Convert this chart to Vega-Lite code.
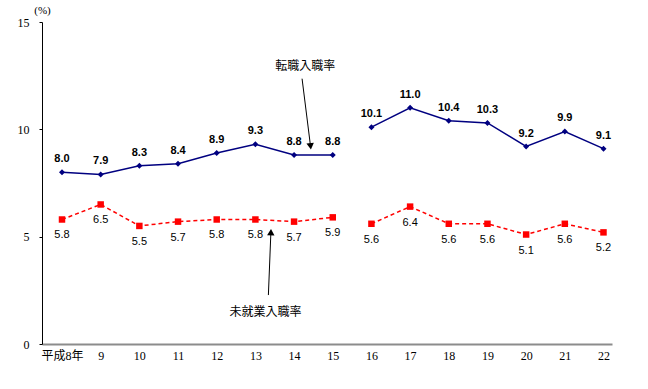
{
  "$schema": "https://vega.github.io/schema/vega-lite/v6.json",
  "autosize": {"type": "none"},
  "padding": {"left": 42, "top": 22, "right": 36, "bottom": 45},
  "width": 570,
  "height": 322,
  "background": "white",
  "config": {"view": {"stroke": null}},
  "datasets": {
    "rates": [
      {"year": 8, "series": "転職入職率", "period": 1, "value": 8.0},
      {"year": 9, "series": "転職入職率", "period": 1, "value": 7.9},
      {"year": 10, "series": "転職入職率", "period": 1, "value": 8.3},
      {"year": 11, "series": "転職入職率", "period": 1, "value": 8.4},
      {"year": 12, "series": "転職入職率", "period": 1, "value": 8.9},
      {"year": 13, "series": "転職入職率", "period": 1, "value": 9.3},
      {"year": 14, "series": "転職入職率", "period": 1, "value": 8.8},
      {"year": 15, "series": "転職入職率", "period": 1, "value": 8.8},
      {"year": 16, "series": "転職入職率", "period": 2, "value": 10.1},
      {"year": 17, "series": "転職入職率", "period": 2, "value": 11.0},
      {"year": 18, "series": "転職入職率", "period": 2, "value": 10.4},
      {"year": 19, "series": "転職入職率", "period": 2, "value": 10.3},
      {"year": 20, "series": "転職入職率", "period": 2, "value": 9.2},
      {"year": 21, "series": "転職入職率", "period": 2, "value": 9.9},
      {"year": 22, "series": "転職入職率", "period": 2, "value": 9.1},
      {"year": 8, "series": "未就業入職率", "period": 1, "value": 5.8},
      {"year": 9, "series": "未就業入職率", "period": 1, "value": 6.5},
      {"year": 10, "series": "未就業入職率", "period": 1, "value": 5.5},
      {"year": 11, "series": "未就業入職率", "period": 1, "value": 5.7},
      {"year": 12, "series": "未就業入職率", "period": 1, "value": 5.8},
      {"year": 13, "series": "未就業入職率", "period": 1, "value": 5.8},
      {"year": 14, "series": "未就業入職率", "period": 1, "value": 5.7},
      {"year": 15, "series": "未就業入職率", "period": 1, "value": 5.9},
      {"year": 16, "series": "未就業入職率", "period": 2, "value": 5.6},
      {"year": 17, "series": "未就業入職率", "period": 2, "value": 6.4},
      {"year": 18, "series": "未就業入職率", "period": 2, "value": 5.6},
      {"year": 19, "series": "未就業入職率", "period": 2, "value": 5.6},
      {"year": 20, "series": "未就業入職率", "period": 2, "value": 5.1},
      {"year": 21, "series": "未就業入職率", "period": 2, "value": 5.6},
      {"year": 22, "series": "未就業入職率", "period": 2, "value": 5.2}
    ],
    "notes": [
      {"label": "転職入職率", "tx": 14.29, "ty": 12.93, "ax": 14.207, "ay": 12.36, "hx": 14.426, "hy": 9.21, "shape": "triangle-down", "angle": -7},
      {"label": "未就業入職率", "tx": 13.26, "ty": 1.49, "ax": 13.336, "ay": 2.28, "hx": 13.401, "hy": 5.21, "shape": "triangle-up", "angle": 2}
    ]
  },
  "encoding": {
    "x": {
      "field": "year",
      "type": "quantitative",
      "scale": {"domain": [7.483, 22.22], "nice": false, "zero": false},
      "axis": {
        "values": [8, 9, 10, 11, 12, 13, 14, 15, 16, 17, 18, 19, 20, 21, 22],
        "labelExpr": "datum.value == 8 ? '平成8年' : datum.value",
        "title": null,
        "grid": false,
        "ticks": false,
        "domainColor": "#8c8c8c",
        "domainWidth": 2,
        "labelFont": "Liberation Serif, Noto Sans CJK JP",
        "labelFontSize": 12,
        "labelColor": "#000000",
        "labelPadding": 6
      }
    },
    "y": {
      "field": "value",
      "type": "quantitative",
      "scale": {"domain": [0, 15], "nice": false},
      "axis": {
        "values": [0, 5, 10, 15],
        "title": "(%)",
        "titleAngle": 0,
        "titleX": 0,
        "titleY": -12,
        "titleAlign": "center",
        "titleBaseline": "middle",
        "titleFont": "Liberation Serif",
        "titleFontSize": 11,
        "titleFontWeight": "normal",
        "grid": false,
        "tickSize": 3,
        "tickColor": "#000000",
        "domainColor": "#000000",
        "labelFont": "Liberation Serif",
        "labelFontSize": 12,
        "labelColor": "#000000",
        "labelPadding": 10
      }
    }
  },
  "layer": [
    {
      "data": {"name": "rates"},
      "transform": [{"filter": "datum.series == '転職入職率'"}],
      "mark": {"type": "line", "color": "#000080", "strokeWidth": 1.5},
      "encoding": {"detail": {"field": "period", "type": "nominal"}}
    },
    {
      "data": {"name": "rates"},
      "transform": [{"filter": "datum.series == '転職入職率'"}],
      "mark": {"type": "point", "shape": "diamond", "filled": true, "size": 36, "color": "#000080", "opacity": 1}
    },
    {
      "data": {"name": "rates"},
      "transform": [{"filter": "datum.series == '転職入職率'"}],
      "mark": {"type": "text", "dy": -13, "font": "Liberation Sans", "fontSize": 11, "fontWeight": "bold", "color": "#000000"},
      "encoding": {"text": {"field": "value", "type": "quantitative", "format": ".1f"}}
    },
    {
      "data": {"name": "rates"},
      "transform": [{"filter": "datum.series == '未就業入職率'"}],
      "mark": {"type": "line", "color": "#ff0000", "strokeWidth": 1.5, "strokeDash": [4, 3]},
      "encoding": {"detail": {"field": "period", "type": "nominal"}}
    },
    {
      "data": {"name": "rates"},
      "transform": [{"filter": "datum.series == '未就業入職率'"}],
      "mark": {"type": "point", "shape": "square", "filled": true, "size": 42, "color": "#ff0000", "opacity": 1}
    },
    {
      "data": {"name": "rates"},
      "transform": [{"filter": "datum.series == '未就業入職率'"}],
      "mark": {"type": "text", "dy": 16, "font": "Liberation Sans", "fontSize": 11, "color": "#000000"},
      "encoding": {"text": {"field": "value", "type": "quantitative", "format": ".1f"}}
    },
    {
      "data": {"name": "notes"},
      "mark": {"type": "rule", "color": "#000000", "strokeWidth": 1},
      "encoding": {
        "x": {"field": "ax", "type": "quantitative"},
        "y": {"field": "ay", "type": "quantitative"},
        "x2": {"field": "hx"},
        "y2": {"field": "hy"}
      }
    },
    {
      "data": {"name": "notes"},
      "mark": {"type": "point", "filled": true, "size": 55, "color": "#000000", "opacity": 1},
      "encoding": {
        "x": {"field": "hx", "type": "quantitative"},
        "y": {"field": "hy", "type": "quantitative"},
        "shape": {"field": "shape", "type": "nominal", "scale": null},
        "angle": {"field": "angle", "type": "quantitative", "scale": null}
      }
    },
    {
      "data": {"name": "notes"},
      "mark": {"type": "text", "font": "Noto Sans CJK JP", "fontSize": 12, "color": "#000000", "align": "center", "baseline": "middle"},
      "encoding": {
        "x": {"field": "tx", "type": "quantitative"},
        "y": {"field": "ty", "type": "quantitative"},
        "text": {"field": "label"}
      }
    }
  ]
}
